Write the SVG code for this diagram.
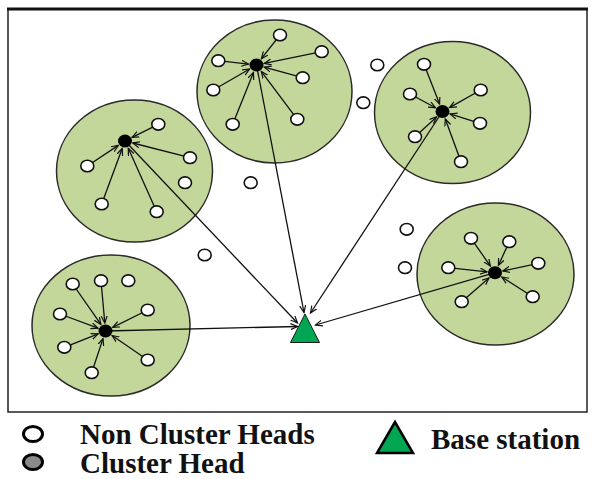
<svg xmlns="http://www.w3.org/2000/svg" width="592" height="479" viewBox="0 0 592 479">
<style>
.cl{fill:#c4d79b;stroke:#2a2a2a;stroke-width:1.5}
.nd{fill:#fff;stroke:#111;stroke-width:1.6}
.ch{fill:#000}
.ln{stroke:#111;stroke-width:1.3;fill:none;marker-end:url(#ah)}
.lg{font-family:"Liberation Serif","Times New Roman",serif;font-weight:bold;font-size:29px;fill:#111}
</style>
<defs>
<marker id="ah" markerUnits="userSpaceOnUse" markerWidth="9" markerHeight="8" refX="7" refY="3.5" orient="auto">
<path d="M0,0.5 L7,3.5 L0,6.5" fill="none" stroke="#111" stroke-width="1.2"/>
</marker>
</defs>
<rect x="0" y="0" width="592" height="479" fill="#fff"/>
<rect x="8" y="9" width="579" height="403" fill="none" stroke="#222" stroke-width="1.5"/>
<line x1="7" y1="9" x2="588" y2="9" stroke="#111" stroke-width="3"/>

<g id="cluster-top"><ellipse class="cl" cx="274.5" cy="91.5" rx="77.5" ry="71.5"/></g>
<g id="cluster-left"><ellipse class="cl" cx="134.5" cy="171" rx="78" ry="71"/></g>
<g id="cluster-righttop"><ellipse class="cl" cx="452.5" cy="112.5" rx="78" ry="71"/></g>
<g id="cluster-right"><ellipse class="cl" cx="495.5" cy="274" rx="78.5" ry="71"/></g>
<g id="cluster-bottomleft"><ellipse class="cl" cx="111" cy="325.5" rx="79" ry="70.5"/></g>

<g id="connectors">
<line class="ln" x1="280" y1="35" x2="261.4" y2="58.7"/>
<line class="ln" x1="321.7" y1="51.7" x2="264.3" y2="63.4"/>
<line class="ln" x1="218.3" y1="60.7" x2="248.5" y2="64.1"/>
<line class="ln" x1="302.7" y1="77.7" x2="264.2" y2="67.1"/>
<line class="ln" x1="213.3" y1="90" x2="249.6" y2="69"/>
<line class="ln" x1="232.7" y1="124.3" x2="253.5" y2="72.4"/>
<line class="ln" x1="297.3" y1="119.3" x2="261.3" y2="71.4"/>
<line class="ln" x1="158.3" y1="124.3" x2="132.1" y2="137.4"/>
<line class="ln" x1="87.3" y1="166" x2="118.3" y2="145.4"/>
<line class="ln" x1="190" y1="157.7" x2="132.7" y2="143"/>
<line class="ln" x1="101.7" y1="204" x2="122.2" y2="148.5"/>
<line class="ln" x1="156.7" y1="211.7" x2="128.3" y2="148.3"/>
<line class="ln" x1="424" y1="64.3" x2="439.6" y2="104.1"/>
<line class="ln" x1="410" y1="94" x2="435.5" y2="107.7"/>
<line class="ln" x1="480.7" y1="90" x2="449.5" y2="107.6"/>
<line class="ln" x1="480" y1="123.3" x2="450.1" y2="113.9"/>
<line class="ln" x1="415" y1="136.7" x2="436.6" y2="116.9"/>
<line class="ln" x1="461" y1="161.7" x2="445.3" y2="119"/>
<line class="ln" x1="471" y1="238.3" x2="490.4" y2="266.1"/>
<line class="ln" x1="509.3" y1="241.7" x2="498.4" y2="265.4"/>
<line class="ln" x1="448.3" y1="267.7" x2="487.1" y2="271.9"/>
<line class="ln" x1="538.3" y1="263.3" x2="502.8" y2="271"/>
<line class="ln" x1="461.7" y1="301.7" x2="489" y2="277.9"/>
<line class="ln" x1="532.7" y1="296.7" x2="501.8" y2="277"/>
<line class="ln" x1="72.7" y1="284" x2="100.9" y2="324.4"/>
<line class="ln" x1="101" y1="280.7" x2="104.8" y2="323"/>
<line class="ln" x1="60" y1="314" x2="98" y2="328.2"/>
<line class="ln" x1="147.7" y1="310" x2="112.7" y2="327.4"/>
<line class="ln" x1="64.3" y1="347.3" x2="98.1" y2="333.9"/>
<line class="ln" x1="147.7" y1="360" x2="112.1" y2="335.5"/>
<line class="ln" x1="91.7" y1="372.7" x2="103" y2="338.6"/>
<line class="ln" x1="105.5" y1="331" x2="297.5" y2="326.5"/>
<line class="ln" x1="125" y1="141" x2="297.5" y2="323"/>
<line class="ln" x1="256.5" y1="65" x2="304" y2="312.5"/>
<line class="ln" x1="442.5" y1="111.5" x2="310.5" y2="313"/>
<line class="ln" x1="495" y1="272.7" x2="315.5" y2="325"/>
</g>

<g id="head-top"><ellipse class="ch" cx="256.5" cy="65" rx="7" ry="6.5"/></g>
<g id="head-left"><ellipse class="ch" cx="125" cy="141" rx="7" ry="6.5"/></g>
<g id="head-righttop"><ellipse class="ch" cx="442.5" cy="111.5" rx="7" ry="6.5"/></g>
<g id="head-right"><ellipse class="ch" cx="495" cy="272.7" rx="7" ry="6.5"/></g>
<g id="head-bottomleft"><ellipse class="ch" cx="105.5" cy="331" rx="7" ry="6.5"/></g>

<g id="nodes-top">
<ellipse class="nd" cx="280" cy="35" rx="6.5" ry="5.8"/>
<ellipse class="nd" cx="321.7" cy="51.7" rx="6.5" ry="5.8"/>
<ellipse class="nd" cx="218.3" cy="60.7" rx="6.5" ry="5.8"/>
<ellipse class="nd" cx="302.7" cy="77.7" rx="6.5" ry="5.8"/>
<ellipse class="nd" cx="213.3" cy="90" rx="6.5" ry="5.8"/>
<ellipse class="nd" cx="232.7" cy="124.3" rx="6.5" ry="5.8"/>
<ellipse class="nd" cx="297.3" cy="119.3" rx="6.5" ry="5.8"/>
</g>
<g id="nodes-left">
<ellipse class="nd" cx="158.3" cy="124.3" rx="6.5" ry="5.8"/>
<ellipse class="nd" cx="87.3" cy="166" rx="6.5" ry="5.8"/>
<ellipse class="nd" cx="190" cy="157.7" rx="6.5" ry="5.8"/>
<ellipse class="nd" cx="185" cy="182.7" rx="6.5" ry="5.8"/>
<ellipse class="nd" cx="101.7" cy="204" rx="6.5" ry="5.8"/>
<ellipse class="nd" cx="156.7" cy="211.7" rx="6.5" ry="5.8"/>
</g>
<g id="nodes-righttop">
<ellipse class="nd" cx="424" cy="64.3" rx="6.5" ry="5.8"/>
<ellipse class="nd" cx="410" cy="94" rx="6.5" ry="5.8"/>
<ellipse class="nd" cx="480.7" cy="90" rx="6.5" ry="5.8"/>
<ellipse class="nd" cx="480" cy="123.3" rx="6.5" ry="5.8"/>
<ellipse class="nd" cx="415" cy="136.7" rx="6.5" ry="5.8"/>
<ellipse class="nd" cx="461" cy="161.7" rx="6.5" ry="5.8"/>
</g>
<g id="nodes-right">
<ellipse class="nd" cx="471" cy="238.3" rx="6.5" ry="5.8"/>
<ellipse class="nd" cx="509.3" cy="241.7" rx="6.5" ry="5.8"/>
<ellipse class="nd" cx="448.3" cy="267.7" rx="6.5" ry="5.8"/>
<ellipse class="nd" cx="538.3" cy="263.3" rx="6.5" ry="5.8"/>
<ellipse class="nd" cx="461.7" cy="301.7" rx="6.5" ry="5.8"/>
<ellipse class="nd" cx="532.7" cy="296.7" rx="6.5" ry="5.8"/>
</g>
<g id="nodes-bottomleft">
<ellipse class="nd" cx="72.7" cy="284" rx="6.5" ry="5.8"/>
<ellipse class="nd" cx="101" cy="280.7" rx="6.5" ry="5.8"/>
<ellipse class="nd" cx="128.3" cy="280.7" rx="6.5" ry="5.8"/>
<ellipse class="nd" cx="60" cy="314" rx="6.5" ry="5.8"/>
<ellipse class="nd" cx="147.7" cy="310" rx="6.5" ry="5.8"/>
<ellipse class="nd" cx="64.3" cy="347.3" rx="6.5" ry="5.8"/>
<ellipse class="nd" cx="147.7" cy="360" rx="6.5" ry="5.8"/>
<ellipse class="nd" cx="91.7" cy="372.7" rx="6.5" ry="5.8"/>
</g>
<g id="nodes-free">
<ellipse class="nd" cx="377.3" cy="65" rx="6.5" ry="5.8"/>
<ellipse class="nd" cx="363.3" cy="102.7" rx="6.5" ry="5.8"/>
<ellipse class="nd" cx="250.7" cy="182.7" rx="6.5" ry="5.8"/>
<ellipse class="nd" cx="204.7" cy="255" rx="6.5" ry="5.8"/>
<ellipse class="nd" cx="406.7" cy="229.3" rx="6.5" ry="5.8"/>
<ellipse class="nd" cx="405" cy="267.7" rx="6.5" ry="5.8"/>
</g>

<g id="base-station"><polygon points="305,314 290.5,342.5 319.5,342.5" fill="#00a651" stroke="#1a1a1a" stroke-width="1"/></g>

<g id="legend">
<ellipse cx="33" cy="434" rx="9.5" ry="7.5" fill="#fff" stroke="#000" stroke-width="3"/>
<ellipse cx="33" cy="462" rx="9.5" ry="7.5" fill="#8a8a8a" stroke="#000" stroke-width="3"/>
<text class="lg" x="80" y="444">Non Cluster Heads</text>
<text class="lg" x="80" y="473">Cluster Head</text>
<polygon points="395,422 377,453 413,453" fill="#00a651" stroke="#000" stroke-width="2.5"/>
<text class="lg" x="431" y="449" font-size="30">Base station</text>
</g>
</svg>
